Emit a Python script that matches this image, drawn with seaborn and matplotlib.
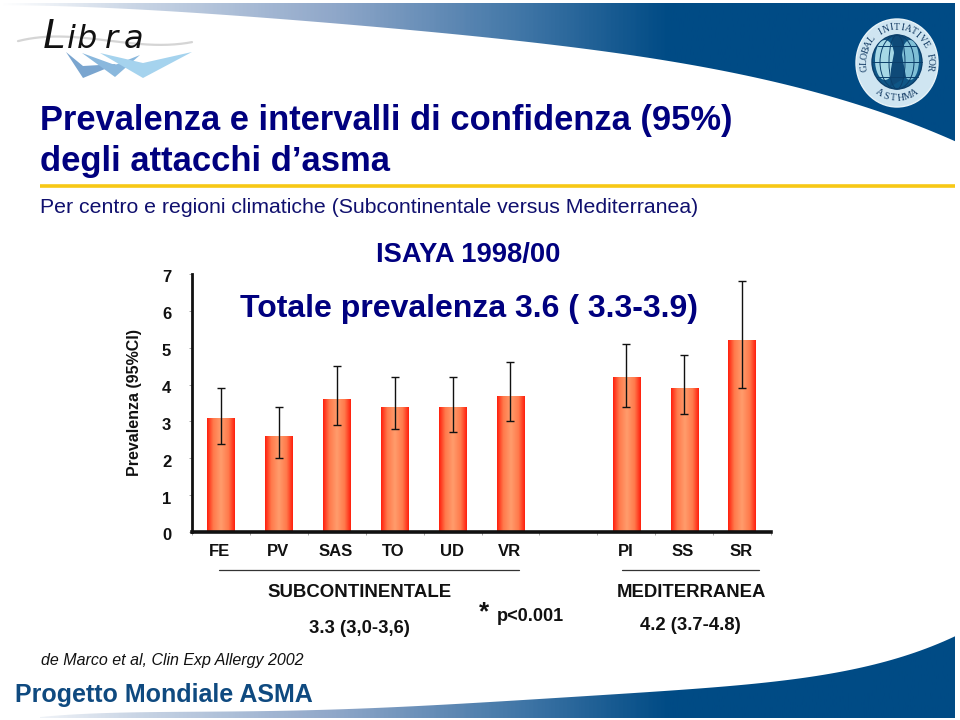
import matplotlib
matplotlib.use("Agg")
import matplotlib.pyplot as plt
import matplotlib.transforms as mtrans
from matplotlib.colors import LinearSegmentedColormap
from matplotlib.patches import Ellipse, Polygon
import numpy as np
import pandas as pd
import seaborn as sns

# blank category keeps the gap between the two climate regions
centres = ["FE", "PV", "SAS", "TO", "UD", "VR", " ", "PI", "SS", "SR"]
prevalence = [3.1, 2.6, 3.6, 3.4, 3.4, 3.7, np.nan, 4.2, 3.9, 5.2]
ci_low = [2.4, 2.0, 2.9, 2.8, 2.7, 3.0, np.nan, 3.4, 3.2, 3.9]
ci_high = [3.9, 3.4, 4.5, 4.2, 4.2, 4.6, np.nan, 5.1, 4.8, 6.8]
y_ticks = [0, 1, 2, 3, 4, 5, 6, 7]

NAVY = "#00007f"
BLUE = "#004b85"

sns.set_theme(style="white")
plt.rcParams["font.family"] = ["Liberation Sans", "DejaVu Sans"]

fig = plt.figure(figsize=(9.6, 7.2), dpi=100)
bg = fig.add_axes([0, 0, 1, 1], zorder=0)
bg.set_xlim(0, 960)
bg.set_ylim(720, 0)
bg.axis("off")


def fit_text(text, x0, x1, baseline, **kw):
    """Put text on the slide so that it runs from x0 to x1 (pixels)."""
    t = bg.text(x0, baseline, text, va="baseline", ha="left", fontsize=20, **kw)
    width = t.get_window_extent(fig.canvas.get_renderer()).width
    t.set_fontsize(20 * (x1 - x0) / width)
    return t


def swoosh(outline):
    """Header/footer band with the white to dark blue fade."""
    cmap = LinearSegmentedColormap.from_list(
        "band", [(0, "#ffffff"), (0.14, "#c9d5e5"), (0.35, "#8fa7c9"),
                 (0.55, "#3f75a6"), (0.7, BLUE), (1, BLUE)])
    im = bg.imshow(np.linspace(0, 1, 480).reshape(1, -1), extent=(0, 955, 720, 0),
                   cmap=cmap, aspect="auto")
    poly = Polygon(outline, closed=True, fc="none", ec="none")
    bg.add_patch(poly)
    im.set_clip_path(poly)


def smooth(xs, ys, deg=5):
    grid = np.linspace(xs[0], xs[-1], 160)
    coef = np.polyfit(np.array(xs) / 1000, ys, deg)
    return np.column_stack([grid, np.polyval(coef, grid / 1000)])


top_edge = smooth([0, 184, 368, 552, 736, 840, 883, 955],
                  [5, 13, 25, 45, 75, 98, 112, 142], deg=4)
swoosh(np.vstack([[[0, 3], [955, 3]], top_edge[::-1]]))
low_edge = smooth([40, 200, 400, 560, 700, 796, 860, 927, 955],
                  [717, 712, 706, 699, 688, 678, 668, 650, 635])
swoosh(np.vstack([low_edge, [[955, 718], [40, 718]]]))
bg.set_xlim(0, 960)
bg.set_ylim(720, 0)

# Libra logo
bg.plot(*smooth([18, 60, 100, 150, 192], [41, 37, 39, 45, 42], deg=3).T, color="#d5d5d5", lw=1.6)
for pts, col in [
    ([(66, 52), (83, 78), (117, 64), (83, 66)], "#7aa5cf"),
    ([(82, 53), (115, 77), (140, 55), (115, 65)], "#8ab8dd"),
    ([(100, 53), (143, 78), (192, 52), (143, 63)], "#a5d3ee"),
]:
    bg.add_patch(Polygon(pts, closed=True, fc=col, ec="none"))
bg.text(43, 48, "L", fontsize=30, style="italic", color="#111111", va="baseline")
for ch, x in zip("ibra", [67, 77, 105, 124]):
    bg.text(x, 48, ch, family="DejaVu Sans", fontsize=23, style="italic", color="#111111",
            va="baseline")

# GINA badge
cx, cy = 897, 63
bg.add_patch(Ellipse((cx, cy), 82, 88, fc="#cfe5f1", ec="#e8f3f8", lw=1))
bg.add_patch(Ellipse((cx, cy - 1), 50, 54, fc="#0f5686", ec="#0b3f6b", lw=1))
bg.add_patch(Ellipse((cx - 12, cy - 3), 20, 40, fc="#a6d8e6", ec="none"))
bg.add_patch(Ellipse((cx + 13, cy - 3), 18, 40, fc="#7fbfd6", ec="none"))
bg.add_patch(Polygon([(cx - 5, cy - 27), (cx + 8, cy - 27), (cx + 5, cy - 8),
                      (cx + 9, cy + 14), (cx - 7, cy + 24), (cx - 6, cy + 6), (cx - 3, cy - 10)],
                     closed=True, fc="#0f4a78", ec="none"))
for w in (16, 34):
    bg.add_patch(Ellipse((cx, cy - 1), w, 54, fc="none", ec="#0b3f6b", lw=0.7))
for dy, half in [(-16, 19), (0, 25), (15, 21)]:
    bg.plot([cx - half, cx + half], [cy - 1 + dy] * 2, color="#0b3f6b", lw=0.7)


def arc_text(text, start, stop, rx, ry, upper=True):
    for ch, a in zip(text, np.linspace(start, stop, len(text))):
        x = cx + rx * np.cos(np.radians(a))
        y = cy - ry * np.sin(np.radians(a))
        bg.text(x, y, ch, family="Liberation Serif", fontsize=7, color="#123a63",
                ha="center", va="center", rotation=a - 90 if upper else a + 90)


arc_text("GLOBAL INITIATIVE FOR", 188, -8, 33, 36)
arc_text("ASTHMA", 238, 302, 33, 35, upper=False)

# slide texts
fit_text("Prevalenza e intervalli di confidenza (95%)", 40, 733, 130, color=NAVY, weight="bold")
fit_text("degli attacchi d\u2019asma", 40, 389, 171, color=NAVY, weight="bold")
bg.plot([40, 955], [186, 186], color="#f7c815", lw=2.6, solid_capstyle="butt")
fit_text("Per centro e regioni climatiche (Subcontinentale versus Mediterranea)", 40, 698, 213,
         color="#10106e")
fit_text("ISAYA 1998/00", 376, 560, 262, color=NAVY, weight="bold")
fit_text("Totale prevalenza 3.6 ( 3.3-3.9)", 240, 698, 317, color=NAVY, weight="bold")

bg.text(135, 402, "Prevalenza (95%CI)", rotation=90, ha="center", va="center",
        fontsize=11.5, weight="bold", color="#111111")
bg.plot([219, 519], [570, 570], color="#333333", lw=0.9)
bg.plot([622, 759], [570, 570], color="#333333", lw=0.9)
fit_text("SUBCONTINENTALE", 267, 451, 597, color="#111111", weight="bold")
fit_text("3.3 (3,0-3,6)", 309, 410, 633, color="#111111", weight="bold")
fit_text("*", 479, 489, 619, color="#111111", weight="bold")
fit_text("p<0.001", 497, 564, 621, color="#111111", weight="bold")
fit_text("MEDITERRANEA", 617, 766, 597, color="#111111", weight="bold")
fit_text("4.2 (3.7-4.8)", 640, 741, 630, color="#111111", weight="bold")
fit_text("de Marco et al, Clin Exp Allergy 2002", 41, 303, 665, color="#111111", style="italic")
fit_text("Progetto Mondiale ASMA", 15, 313, 702, color="#0f4a80", weight="bold")

# the chart itself
ax = fig.add_axes([192 / 960, (720 - 532) / 720, 579 / 960, 258 / 720], zorder=1)
ax.patch.set_alpha(0)
df = pd.DataFrame({"centre": centres, "prevalence": prevalence})
sns.barplot(data=df, x="centre", y="prevalence", order=centres, color="#ff6a3c",
            width=0.47, errorbar=None, saturation=1, ax=ax)

bar_cmap = LinearSegmentedColormap.from_list(
    "bar", [(0, "#ff2410"), (0.22, "#ff7a4c"), (0.5, "#ff9c6c"), (0.78, "#ff7a4c"), (1, "#ff2410")])
for bar in ax.patches:
    x0, w, h = bar.get_x(), bar.get_width(), bar.get_height()
    if np.isnan(h):
        continue
    im = ax.imshow(np.linspace(0, 1, 32).reshape(1, -1), extent=(x0, x0 + w, 0, h),
                   cmap=bar_cmap, aspect="auto", zorder=2)
    im.set_clip_path(bar)

means = np.array(prevalence)
ax.errorbar(np.arange(len(centres)), means,
            yerr=[means - np.array(ci_low), np.array(ci_high) - means],
            fmt="none", ecolor="#111111", elinewidth=1.0, capsize=2.8, capthick=1.0, zorder=3)

ax.set_xlim(-0.5, len(centres) - 0.5)
ax.set_ylim(0, 7)
ax.set_xlabel("")
ax.set_ylabel("")
ax.set_yticks(y_ticks)
ax.set_xticks(np.arange(len(centres) + 1) - 0.5, minor=True)
ax.tick_params(axis="x", which="major", length=0, pad=9)
ax.tick_params(axis="x", which="minor", bottom=True, length=2, width=0.6, color="#999999")
ax.tick_params(axis="y", left=True, length=2, width=0.6, color="#999999", pad=13)
for lab in ax.get_xticklabels():
    lab.set_fontsize(12)
    lab.set_fontweight("bold")
    lab.set_color("#111111")
    lab.set_transform(lab.get_transform() + mtrans.ScaledTranslation(-1 / 100, 0, fig.dpi_scale_trans))
for lab in ax.get_yticklabels():
    lab.set_fontsize(12)
    lab.set_fontweight("bold")
    lab.set_color("#111111")
    lab.set_transform(lab.get_transform() + mtrans.ScaledTranslation(0, -2.5 / 100, fig.dpi_scale_trans))
sns.despine(ax=ax)
ax.spines["left"].set_linewidth(2.0)
ax.spines["bottom"].set_linewidth(2.6)
ax.spines["left"].set_color("#111111")
ax.spines["bottom"].set_color("#111111")

fig.savefig("out.png", dpi=100)
